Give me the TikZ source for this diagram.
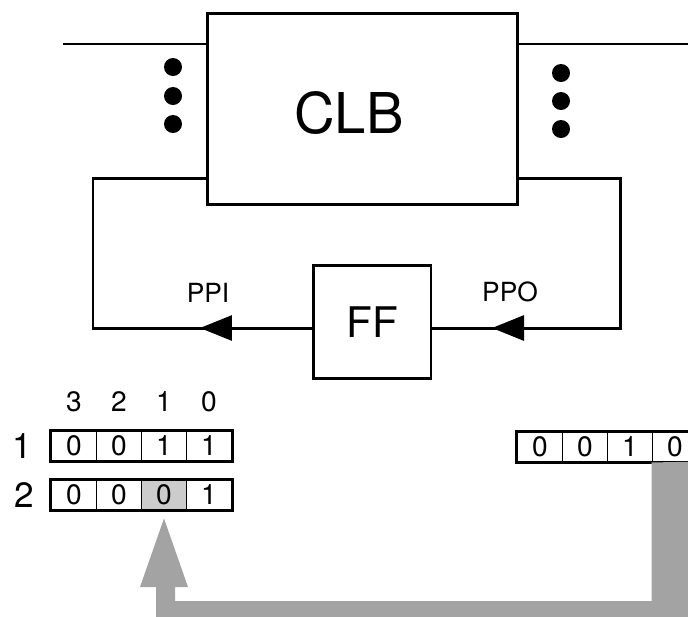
\documentclass[tikz,border=0pt]{standalone}
\usepackage{fontspec}
\setmainfont{TeX Gyre Heros}
\usetikzlibrary{arrows.meta,positioning,calc,fit}
\definecolor{bandgray}{gray}{0.64}
\definecolor{cellgray}{gray}{0.8}
\tikzset{
  blkbox/.style={draw, line width=1.7pt, inner sep=0pt},
  wire/.style={line width=1.7pt},
  arw/.style={wire, -{Triangle[length=6.4mm,width=5mm]}},
  bit/.style={draw, line width=1.1pt, minimum width=9mm, minimum height=5.8mm,
              inner sep=0pt, font=\fontsize{16}{16}\selectfont},
  regframe/.style={draw, line width=1.8pt, inner sep=0pt},
  sig/.style={font=\fontsize{15}{15}\selectfont},
  idx/.style={font=\fontsize{16}{16}\selectfont},
  rowlbl/.style={font=\fontsize{20}{20}\selectfont},
}
\begin{document}
\begin{tikzpicture}[x=0.02cm, y=-0.02cm]
\useasboundingbox (0,0) rectangle (688,616);
\clip (0,0) rectangle (688,616);

% logic block and flip-flop
\node[blkbox, minimum width=6.22cm, minimum height=3.84cm] (clb) at (362.5,109) {};
\node[font=\fontsize{32}{32}\selectfont] (clbname) at (349,113) {CLB};
\node[blkbox, minimum width=2.36cm, minimum height=2.26cm,
      font=\fontsize{24}{24}\selectfont] (ff) at (372,322) {FF};

% routing wires
\coordinate (inl) at (63,44);
\coordinate (outr) at (700,44);
\draw[wire] (inl) -- (inl -| clb.west);
\draw[wire] (clb.east |- outr) -- (outr);
\foreach \y in {67,96,124} \fill (173,\y) circle (9);
\foreach \y in {73,101,129} \fill (561,\y) circle (9);

% scan loop
\coordinate (ltop) at (93,178);
\coordinate (lbot) at (93,328);
\coordinate (rtop) at (620,178);
\coordinate (rbot) at (620,328);
\coordinate (ppitip) at (200,328);
\coordinate (ppotip) at (492,328);
\draw[wire] (clb.east |- rtop) -- (rtop) -- (rbot) -- (ff.east |- rbot);
\draw[wire] (ff.west |- lbot) -- (lbot) -- (ltop) -- (clb.west |- ltop);
\draw[arw] (rbot) -- (ppotip);
\draw[arw] (ff.west |- lbot) -- (ppitip);
\node[sig] (ppi) at (208,293) {PPI};
\node[sig] (ppo) at (510,292) {PPO};

% shift registers
\foreach \n [count=\i] in {3,2,1,0} \node[idx] (col\n) at ({29+45*\i},402) {\n};
\foreach \v [count=\i] in {0,0,1,1} \node[bit] (a\i) at ({29+45*\i},446) {\v};
\node[regframe, fit=(a1)(a4)] (rega) {};
\foreach \v/\c [count=\i] in {0/white,0/white,0/cellgray,1/white}
  \node[bit, fill=\c] (b\i) at ({29+45*\i},495) {\v};
\node[regframe, fit=(b1)(b4)] (regb) {};
\node[rowlbl] (row1) at (22,446) {1};
\node[rowlbl] (row2) at (24,495) {2};
\foreach \v [count=\i] in {0,0,1,0} \node[bit] (c\i) at ({495+45*\i},447) {\v};
\node[regframe, fit=(c1)(c4)] (regc) {};

% shaded transfer arrow
\coordinate (tip) at ($(b3.south)+(0,8)$);
\fill[bandgray] (tip) -- (188,587) -- (175,587) -- (175,601) -- (c4.south west |- 0,601)
  -- (c4.south west) -- (700,461.5) -- (700,630) -- (156,630) -- (156,587)
  -- (140,587) -- cycle;
\end{tikzpicture}
\end{document}
